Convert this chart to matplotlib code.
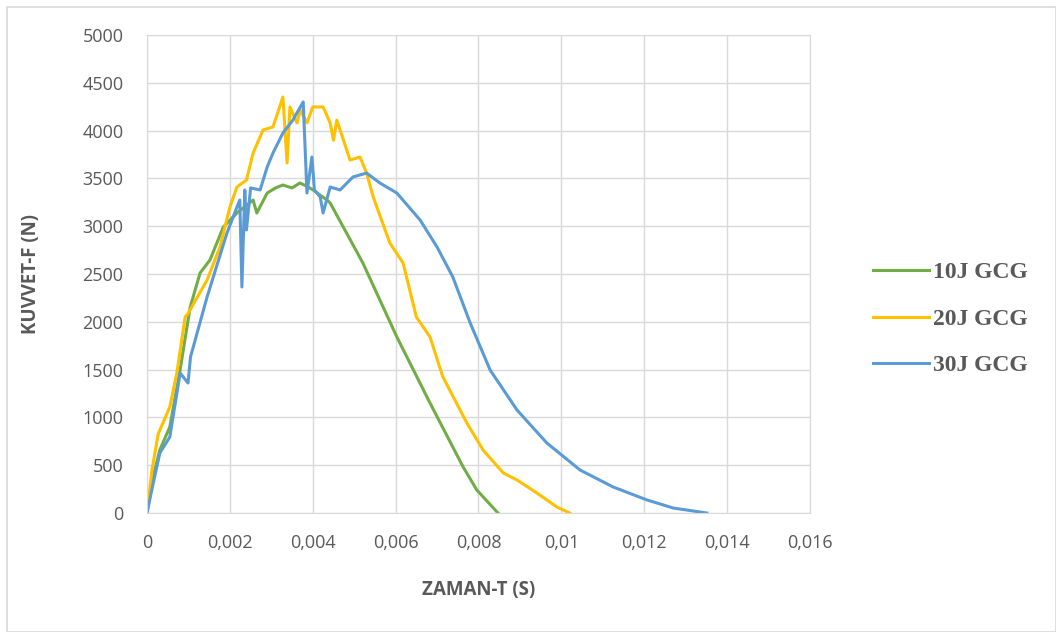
import matplotlib.pyplot as plt
from matplotlib.patches import Rectangle
from matplotlib.ticker import FuncFormatter, MultipleLocator

# 10J GCG
t10 = [0, 0.00012, 0.00031, 0.00055, 0.0008, 0.00104, 0.00128, 0.00152, 0.00184, 0.00217,
       0.00256, 0.00265, 0.0029, 0.0031, 0.00328, 0.0035, 0.00369, 0.00385, 0.00401, 0.00434,
       0.00442, 0.00521, 0.00603, 0.00683, 0.00763, 0.00796, 0.00847]
f10 = [0, 330, 660, 900, 1500, 2150, 2510, 2647, 2990, 3138,
       3274, 3138, 3347, 3400, 3431, 3400, 3452, 3420, 3379, 3274,
       3243, 2615, 1841, 1150, 481, 240, 0]

# 20J GCG
t20 = [0, 0.00012, 0.00027, 0.00055, 0.00072, 0.00092, 0.00098, 0.00145, 0.00176, 0.002,
       0.00217, 0.0024, 0.00256, 0.0028, 0.00304, 0.00328, 0.00338, 0.00345, 0.00362, 0.0037,
       0.00386, 0.004, 0.00425, 0.00442, 0.0045, 0.00458, 0.00466, 0.0049, 0.00514, 0.0053,
       0.00546, 0.00586, 0.00618, 0.0065, 0.00683, 0.00714, 0.00772, 0.00811, 0.0086,
       0.00893, 0.00941, 0.00989, 0.0102]
f20 = [0, 450, 826, 1109, 1464, 2050, 2080, 2437, 2782, 3200,
       3410, 3483, 3765, 4006, 4038, 4351, 3661, 4247, 4080, 4215,
       4080, 4247, 4247, 4080, 3900, 4110, 4006, 3692, 3724, 3556,
       3305, 2824, 2615, 2050, 1841, 1423, 941, 659, 418,
       345, 209, 63, 0]

# 30J GCG
t30 = [0, 0.00012, 0.00031, 0.00055, 0.0008, 0.00099, 0.00105, 0.00145, 0.00193, 0.00217,
       0.00224, 0.00229, 0.00236, 0.0024, 0.0025, 0.00273, 0.0029, 0.00304, 0.00328, 0.00352,
       0.00377, 0.00386, 0.00398, 0.00404, 0.00418, 0.00425, 0.00442, 0.00466, 0.00497, 0.0053,
       0.00562, 0.00603, 0.00659, 0.007, 0.00738, 0.0078, 0.00828, 0.00893, 0.00965,
       0.01045, 0.01125, 0.01207, 0.0127, 0.01351]
f30 = [0, 250, 628, 795, 1464, 1360, 1632, 2260, 2929, 3200,
       3274, 2364, 3379, 2960, 3400, 3379, 3619, 3765, 3975, 4110,
       4300, 3347, 3724, 3379, 3305, 3138, 3410, 3379, 3515, 3556,
       3452, 3347, 3065, 2782, 2469, 1987, 1496, 1077, 732,
       450, 272, 136, 52, 0]

labels = ["10J GCG", "20J GCG", "30J GCG"]
colors = ["#70AD47", "#FFC000", "#5B9BD5"]

fig = plt.figure(figsize=(10.56, 6.32), dpi=100)
fig.patches.append(Rectangle((7 / 1056, 0), 1 - 7 / 1056, 1 - 7 / 632, transform=fig.transFigure,
                             fill=False, edgecolor="#d9d9d9", linewidth=1.2))
ax = fig.add_axes([147 / 1056, 1 - 513 / 632, 663 / 1056, 478 / 632])

for t, f, lab, c in zip([t10, t20, t30], [f10, f20, f30], labels, colors):
    ax.plot(t, f, color=c, linewidth=2.2, label=lab)

ax.set_xlim(0, 0.016)
ax.set_ylim(0, 5000)
ax.xaxis.set_major_locator(MultipleLocator(0.002))
ax.yaxis.set_major_locator(MultipleLocator(500))
ax.xaxis.set_major_formatter(FuncFormatter(lambda v, p: "0" if v == 0 else ("%g" % round(v, 3)).replace(".", ",")))
ax.grid(True, color="#d9d9d9", linewidth=1.0)
ax.set_axisbelow(True)
for s in ax.spines.values():
    s.set_color("#d9d9d9")
ax.tick_params(length=0, labelcolor="#595959", labelsize=13)
ax.tick_params(axis="x", pad=15)
ax.tick_params(axis="y", pad=17)
for lbl in ax.get_xticklabels() + ax.get_yticklabels():
    lbl.set_family("Open Sans")

ax.set_xlabel("ZAMAN-T (S)", fontsize=13.5, fontweight="bold", color="#595959", labelpad=20,
              family="Open Sans")
ax.set_ylabel("KUVVET-F (N)", fontsize=13.5, fontweight="bold", color="#595959", labelpad=30,
              family="Open Sans")

leg = fig.legend(loc="center left", bbox_to_anchor=(852 / 1056, 1 - 319 / 632), frameon=False,
                 handlelength=2.35, labelspacing=1.05, handletextpad=0.2,
                 prop={"family": "Liberation Serif", "weight": "bold", "size": 17})
for txt in leg.get_texts():
    txt.set_color("#595959")

fig.savefig("out.png", dpi=100)
